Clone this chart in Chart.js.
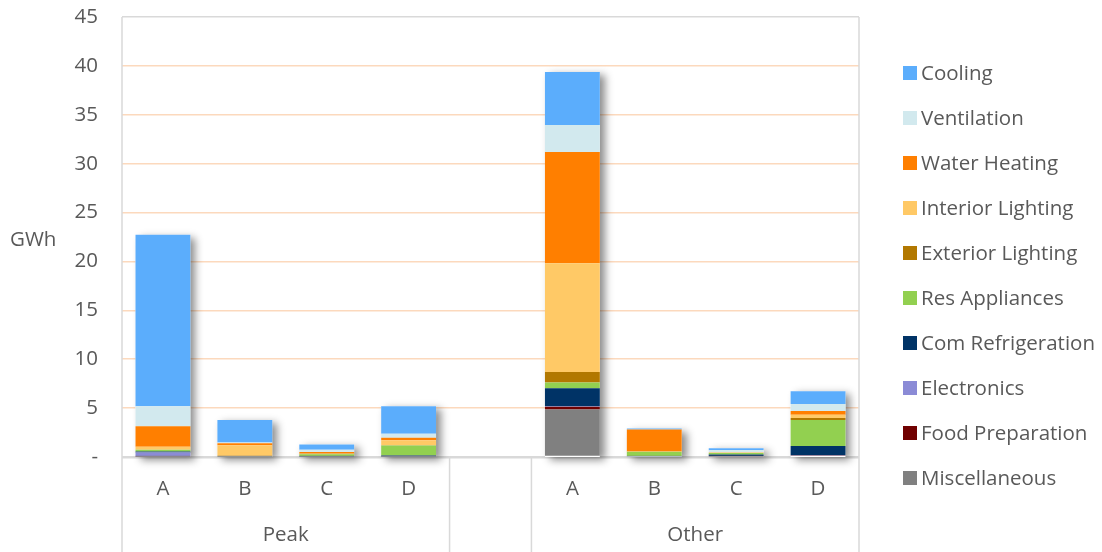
<!DOCTYPE html>
<html>
<head>
<meta charset="utf-8">
<script src="https://cdn.jsdelivr.net/npm/chart.js@4/dist/chart.umd.min.js"></script>
<style>
  html, body { margin: 0; padding: 0; background: #fff; }
  #wrap { width: 1102px; height: 552px; }
</style>
</head>
<body>
<div id="wrap"><canvas id="chart"></canvas></div>
<script>
// --- data ---
const groups = ['Peak', 'Other'];
const sites = ['A', 'B', 'C', 'D'];
// 9 slots: 4 peak bars, an empty spacer, 4 other bars
const slotLabels = ['A', 'B', 'C', 'D', '', 'A', 'B', 'C', 'D'];
const yTicks = [0, 5, 10, 15, 20, 25, 30, 35, 40, 45];

// stacked bottom -> top
const miscellaneous   = [0.03, 0.02, 0.03, 0.03, null, 4.85, 0.07, 0.06, 0.13];
const foodPreparation = [0.01, 0.00, 0.00, 0.00, null, 0.30, 0.00, 0.01, 0.02];
const electronics     = [0.42, 0.02, 0.02, 0.02, null, 0.03, 0.01, 0.02, 0.03];
const comRefrig       = [0.10, 0.01, 0.06, 0.10, null, 1.84, 0.02, 0.17, 0.95];
const resAppliances   = [0.17, 0.03, 0.17, 1.03, null, 0.61, 0.44, 0.14, 2.66];
const extLighting     = [0.02, 0.00, 0.04, 0.03, null, 1.06, 0.00, 0.02, 0.20];
const intLighting     = [0.30, 1.12, 0.05, 0.51, null, 11.12, 0.01, 0.02, 0.34];
const waterHeating    = [2.10, 0.21, 0.13, 0.24, null, 11.39, 2.25, 0.02, 0.38];
const ventilation     = [2.04, 0.07, 0.24, 0.41, null, 2.76, 0.01, 0.24, 0.71];
const cooling         = [17.55, 2.30, 0.55, 2.83, null, 5.41, 0.10, 0.20, 1.30];

const series = [
  { label: 'Miscellaneous',     data: miscellaneous,   color: '#808080' },
  { label: 'Food Preparation',  data: foodPreparation, color: '#700000' },
  { label: 'Electronics',       data: electronics,     color: '#8B8BD6' },
  { label: 'Com Refrigeration', data: comRefrig,       color: '#003366' },
  { label: 'Res Appliances',    data: resAppliances,   color: '#92D050' },
  { label: 'Exterior Lighting', data: extLighting,     color: '#B27800' },
  { label: 'Interior Lighting', data: intLighting,     color: '#FFC966' },
  { label: 'Water Heating',     data: waterHeating,    color: '#FF7F00' },
  { label: 'Ventilation',       data: ventilation,     color: '#D2E9EE' },
  { label: 'Cooling',           data: cooling,         color: '#5BADFC' }
];

const FONT = '"Open Sans", "Segoe UI", sans-serif';
const FSIZE = 20.5;
const TEXT = '#595959';
const LINE = '#D9D9D9';

// drop shadow behind each full stack
const stackShadow = {
  id: 'stackShadow',
  beforeDatasetsDraw(chart) {
    const ctx = chart.ctx, y = chart.scales.y;
    const meta = chart.getDatasetMeta(0);
    ctx.save();
    ctx.shadowColor = 'rgba(0,0,0,0.45)';
    ctx.shadowBlur = 8;
    ctx.shadowOffsetX = 5;
    ctx.shadowOffsetY = 3;
    ctx.fillStyle = '#fff';
    slotLabels.forEach((l, i) => {
      if (!l) return;
      const total = series.reduce((s, d) => s + (d.data[i] || 0), 0);
      const bar = meta.data[i];
      const top = y.getPixelForValue(total), base = y.getPixelForValue(0);
      ctx.fillRect(bar.x - bar.width / 2, top, bar.width, base - top);
    });
    ctx.restore();
  }
};

// frame, group separators, group names, axis title and legend
const decorations = {
  id: 'decorations',
  afterDraw(chart) {
    const ctx = chart.ctx, a = chart.chartArea, x = chart.scales.x;
    const H = chart.height;
    ctx.save();
    ctx.strokeStyle = LINE;
    ctx.lineWidth = 1.5;
    const half = (x.getPixelForValue(1) - x.getPixelForValue(0)) / 2;
    const sepA = x.getPixelForValue(3) + half;
    const sepB = x.getPixelForValue(5) - half;
    ctx.beginPath();
    ctx.moveTo(a.left, a.top); ctx.lineTo(a.left, H);
    ctx.moveTo(a.right, a.top); ctx.lineTo(a.right, H);
    ctx.moveTo(sepA, a.bottom); ctx.lineTo(sepA, H);
    ctx.moveTo(sepB, a.bottom); ctx.lineTo(sepB, H);
    ctx.stroke();

    ctx.fillStyle = TEXT;
    ctx.font = FSIZE + 'px ' + FONT;
    ctx.textBaseline = 'middle';
    ctx.textAlign = 'center';
    ctx.fillText(groups[0], (a.left + sepA) / 2, 535);
    ctx.fillText(groups[1], (sepB + a.right) / 2, 535);

    ctx.textAlign = 'left';
    ctx.fillText('GWh', 10, 240);

    // legend, top of stack first
    const ds = chart.data.datasets;
    for (let i = 0; i < ds.length; i++) {
      const d = ds[ds.length - 1 - i];
      const cy = 73 + i * 45;
      ctx.fillStyle = d.backgroundColor;
      ctx.fillRect(903, cy - 7, 14, 14);
      ctx.fillStyle = TEXT;
      ctx.fillText(d.label, 921, cy + 1);
    }
    ctx.restore();
  }
};

new Chart(document.getElementById('chart'), {
  type: 'bar',
  data: {
    labels: slotLabels,
    datasets: series.map(s => ({
      label: s.label,
      data: s.data,
      backgroundColor: s.color,
      borderWidth: 0,
      categoryPercentage: 1,
      barPercentage: 0.67
    }))
  },
  options: {
    responsive: true,
    maintainAspectRatio: false,
    animation: false,
    layout: { padding: { top: 17, right: 243, left: 0, bottom: 0 } },
    plugins: { legend: { display: false }, tooltip: { enabled: false } },
    scales: {
      x: {
        stacked: true,
        grid: { display: false, drawTicks: false },
        border: { display: false },
        ticks: { color: TEXT, font: { family: FONT, size: FSIZE }, padding: 20, maxRotation: 0 },
        afterFit(s) { s.height = 95; s.paddingLeft = 0; s.paddingRight = 0; }
      },
      y: {
        stacked: true,
        min: 0, max: 45,
        afterBuildTicks(s) { s.ticks = yTicks.map(v => ({ value: v })); },
        grid: {
          drawTicks: false,
          color: c => (c.tick.value === 0 || c.tick.value === 45) ? LINE : '#FCD9BD',
          lineWidth: c => c.tick.value === 0 ? 2.5 : 1.5
        },
        border: { display: false },
        ticks: {
          color: TEXT,
          font: { family: FONT, size: FSIZE },
          padding: 24,
          callback: v => v === 0 ? '-' : v
        },
        afterFit(s) { s.width = 122; s.paddingTop = 0; s.paddingBottom = 0; }
      }
    }
  },
  plugins: [stackShadow, decorations]
});
</script>
</body>
</html>
